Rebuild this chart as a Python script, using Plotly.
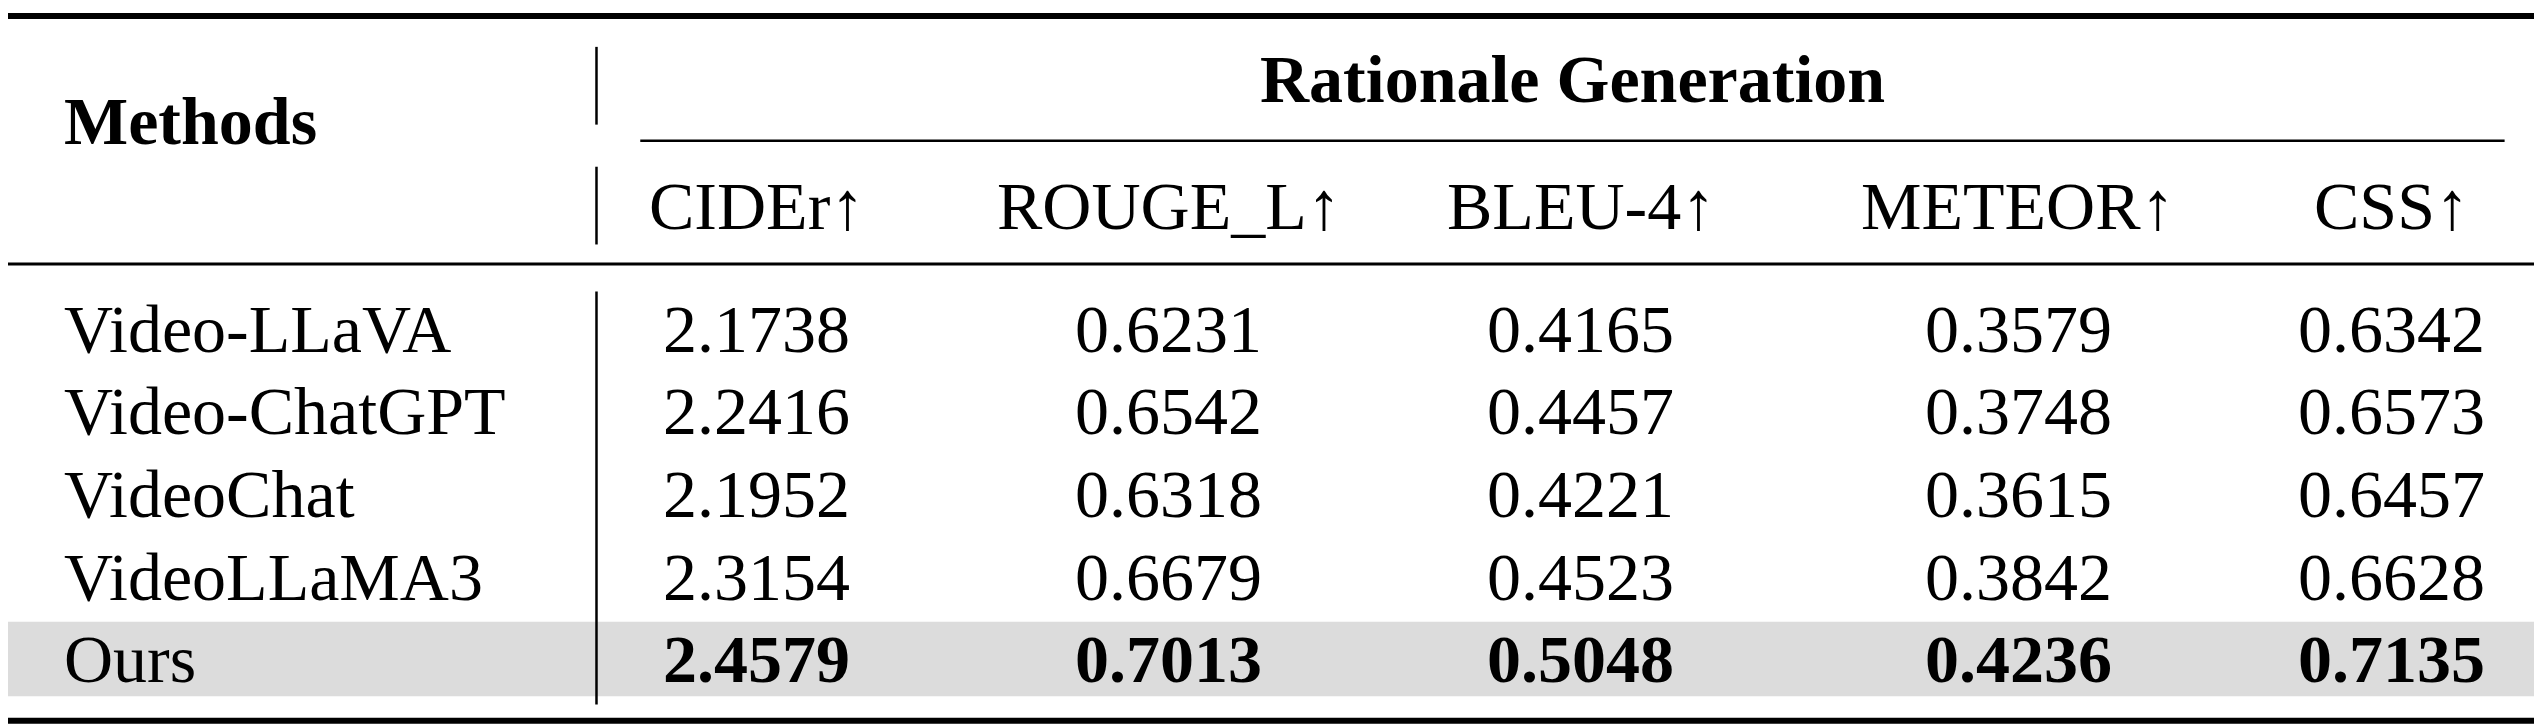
import plotly.graph_objects as go

methods = ["Video-LLaVA", "Video-ChatGPT", "VideoChat", "VideoLLaMA3", "Ours"]
metrics = ["CIDEr↑", "ROUGE_L↑", "BLEU-4↑", "METEOR↑", "CSS↑"]
values = [
    [2.1738, 0.6231, 0.4165, 0.3579, 0.6342],
    [2.2416, 0.6542, 0.4457, 0.3748, 0.6573],
    [2.1952, 0.6318, 0.4221, 0.3615, 0.6457],
    [2.3154, 0.6679, 0.4523, 0.3842, 0.6628],
    [2.4579, 0.7013, 0.5048, 0.4236, 0.7135],
]
group_title = "Rationale Generation"

# layout in a 1568 x 447 grid, scaled up by the browser size
col_x = [462, 716, 970, 1240, 1470]
row_y = [198, 249, 300, 351, 402]
FONT = "Liberation Serif, Times New Roman, serif"
FS = 68

fig = go.Figure()
# invisible trace so the axes exist
fig.add_trace(go.Scatter(x=[0, 1568], y=[0, 447], mode="markers",
                         marker=dict(opacity=0), hoverinfo="skip", showlegend=False))

shapes = [
    dict(type="rect", x0=0, x1=1568, y0=379, y1=425, fillcolor="#dcdcdc", line_width=0, layer="below"),
    dict(type="line", x0=0, x1=1568, y0=5, y1=5, line=dict(color="black", width=6)),
    dict(type="line", x0=390, x1=1540, y0=82, y1=82, line=dict(color="black", width=2.5)),
    dict(type="line", x0=0, x1=1568, y0=158, y1=158, line=dict(color="black", width=3)),
    dict(type="line", x0=0, x1=1568, y0=440, y1=440, line=dict(color="black", width=6)),
    dict(type="line", x0=363, x1=363, y0=24, y1=72, line=dict(color="black", width=2.5)),
    dict(type="line", x0=363, x1=363, y0=98, y1=146, line=dict(color="black", width=2.5)),
    dict(type="line", x0=363, x1=363, y0=175, y1=430, line=dict(color="black", width=2.5)),
]

ann = []
def txt(x, y, s, bold=False, anchor="center"):
    ann.append(dict(x=x, y=y, text=f"<b>{s}</b>" if bold else s, showarrow=False,
                    xanchor=anchor, yanchor="middle", font=dict(family=FONT, size=FS, color="black")))

txt(33, 70, "Methods", bold=True, anchor="left")
txt(965, 44, group_title, bold=True)
for x, m in zip(col_x, metrics):
    txt(x, 122, m)
for i, (name, row) in enumerate(zip(methods, values)):
    best = name == "Ours"
    txt(33, row_y[i], name, anchor="left")
    for x, v in zip(col_x, row):
        txt(x, row_y[i], f"{v:.4f}", bold=best)

fig.update_layout(
    width=2542, height=724, margin=dict(l=0, r=0, t=0, b=0),
    paper_bgcolor="white", plot_bgcolor="white",
    xaxis=dict(range=[0, 1568], visible=False),
    yaxis=dict(range=[447, 0], visible=False),
    shapes=shapes, annotations=ann,
)
fig.write_html("out.html")
